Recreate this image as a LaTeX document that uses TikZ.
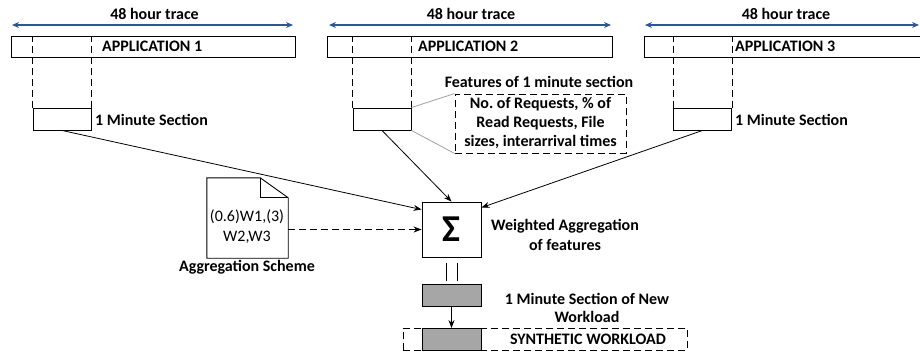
\documentclass[tikz,border=0pt]{standalone}
\usepackage{fontspec}
\setmainfont{Carlito}
\usetikzlibrary{arrows.meta}
\frenchspacing
\definecolor{traceblue}{HTML}{2F5597}
\definecolor{boxgray}{HTML}{A6A6A6}
\definecolor{linegray}{HTML}{A0A0A0}
\tikzset{
  lbl/.style={font=\bfseries\fontsize{16}{19}\selectfont, inner sep=0pt},
  tracearrow/.style={traceblue, line width=1.2pt, {Stealth[length=7pt,width=6pt]}-{Stealth[length=7pt,width=6pt]}},
  appbox/.style={draw, line width=0.9pt, inner sep=0pt, minimum height=21pt},
  secbox/.style={draw, line width=0.9pt, inner sep=0pt, minimum width=58pt, minimum height=22pt},
  graybox/.style={draw, fill=boxgray, line width=0.9pt, inner sep=0pt, minimum width=59pt, minimum height=22pt},
  dline/.style={dashed, dash pattern=on 7pt off 4pt, line width=0.9pt},
  conn/.style={line width=0.8pt, -{Stealth[length=8pt,width=6pt]}},
}
\begin{document}
\begin{tikzpicture}[x=1pt,y=-1pt]
\useasboundingbox (0,0) rectangle (920,354);
% trace arrows
\coordinate (t1a) at (12,25); \coordinate (t1b) at (293,25);
\coordinate (t2a) at (329,25); \coordinate (t2b) at (611,25);
\coordinate (t3a) at (645,25); \coordinate (t3b) at (919,25);
\draw[tracearrow] (t1a) -- (t1b);
\draw[tracearrow] (t2a) -- (t2b);
\draw[tracearrow] (t3a) -- (t3b);
\node[lbl] (tr1) at (154.5,14) {48 hour trace};
\node[lbl] (tr2) at (471,14) {48 hour trace};
\node[lbl] (tr3) at (786,14) {48 hour trace};
% application boxes
\node[appbox, minimum width=284pt] (app1) at (153,46.5) {};
\node[appbox, minimum width=285pt] (app2) at (469.5,46.5) {};
\node[appbox, minimum width=278pt] (app3) at (783,46.5) {};
\node[lbl, anchor=west] (a1t) at (102,46.5) {APPLICATION 1};
\node[lbl, anchor=west] (a2t) at (418,46.5) {APPLICATION 2};
\node[lbl, anchor=west] (a3t) at (735,46.5) {APPLICATION 3};
% section boxes
\node[secbox] (s1) at (62,119) {};
\node[secbox] (s2) at (382,119) {};
\node[secbox] (s3) at (702.5,119) {};
\foreach \s/\a in {s1/app1,s2/app2,s3/app3}{
  \draw[dline] (\s.north west) -- (\s.north west |- \a.north);
  \draw[dline] (\s.north east) -- (\s.north east |- \a.north);
}
\node[lbl, anchor=west] (s1t) at (95,120) {1 Minute Section};
\node[lbl, anchor=west] (s3t) at (735,120) {1 Minute Section};
% features
\node[draw, dline, minimum width=171pt, minimum height=59pt, inner sep=0pt] (feat) at (540.5,123.5) {};
\node[lbl, align=center, font=\bfseries\fontsize{16}{19}\selectfont] (featt) at (540.5,123.5) {No. of Requests, \% of\\Read Requests, File\\sizes, interarrival times};
\node[lbl] (featl) at (539,82) {Features of 1 minute section};
\draw[linegray, line width=0.8pt] (s2.north east) -- (feat.north west);
\draw[linegray, line width=0.8pt] (s2.south east) -- (feat.south west);
% sigma
\node[draw, line width=0.9pt, minimum width=59pt, minimum height=55pt, inner sep=0pt, font=\bfseries\fontsize{38}{40}\selectfont] (sig) at (451.5,229.5) {Σ};
\node[lbl, align=center, font=\bfseries\fontsize{16}{20}\selectfont] (sigt) at (565,235) {Weighted Aggregation\\of features};
\draw[conn] (s1.south) -- ([yshift=-8pt]sig.north west);
\draw[conn] (s2.south) -- (sig.north);
\draw[conn] (s3.south) -- ([yshift=-6pt]sig.north east);
% document
\node[minimum width=81pt, minimum height=80pt, inner sep=0pt] (doc) at (247.5,218) {};
\draw[line width=0.9pt, fill=white] (doc.south west) -- (doc.north west) -- ([xshift=-28pt]doc.north east) -- ([yshift=-20pt]doc.north east) -- (doc.south east) -- cycle;
\draw[line width=0.9pt] ([xshift=-28pt]doc.north east) -- ([xshift=-28pt,yshift=-20pt]doc.north east) -- ([yshift=-20pt]doc.north east);
\node[inner sep=0pt, align=center, font=\fontsize{16}{20}\selectfont] (doct) at (247,227) {(0.6)W1,(3)\\W2,W3};
\node[lbl] (docl) at (247,267) {Aggregation Scheme};
\draw[conn, dline] (doc.east |- sig.west) -- (sig.west);
% output
\coordinate (v1a) at (446,263); \coordinate (v1b) at (446,281);
\coordinate (v2a) at (457,263); \coordinate (v2b) at (457,281);
\draw[line width=0.8pt] (v1a) -- (v1b);
\draw[line width=0.8pt] (v2a) -- (v2b);
\node[graybox] (g1) at (451.5,295) {};
\node[draw, dline, minimum width=284pt, minimum height=22pt, inner sep=0pt] (syn) at (545,339) {};
\node[graybox] (g2) at (451.5,339.5) {};
\draw[conn] (g1.south) -- (g2.north);
\node[lbl, align=center, font=\bfseries\fontsize{16}{18}\selectfont] (g1t) at (587,308) {1 Minute Section of New\\Workload};
\node[lbl] (synt) at (588,339) {SYNTHETIC WORKLOAD};
\end{tikzpicture}
\end{document}
